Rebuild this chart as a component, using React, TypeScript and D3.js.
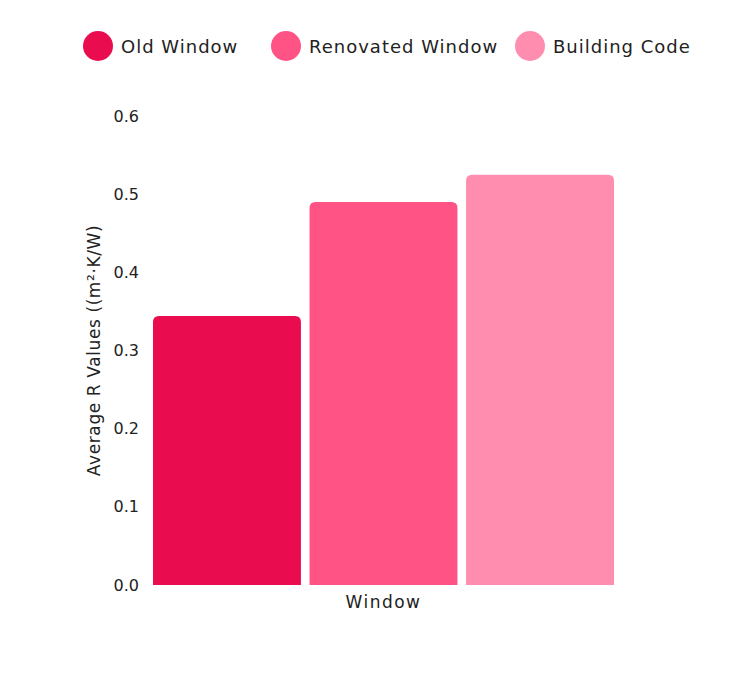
import { axisLeft, scaleBand, scaleLinear, select } from "d3";
import { useEffect, useRef } from "react";

const category = "Window";
const seriesNames = ["Old Window", "Renovated Window", "Building Code"];
const seriesValues = [0.344, 0.49, 0.525];
const seriesColors = ["#e90c4e", "#ff5386", "#ff8db0"];
const yTicks = [0, 0.1, 0.2, 0.3, 0.4, 0.5, 0.6];
const yTitle = "Average R Values ((m²·K/W)";

const W = 730;
const H = 691;
const FONT = "'DejaVu Sans', sans-serif";
const TEXT = "#222";

const App = () => {
  const axisRef = useRef<SVGGElement>(null);

  const x = scaleBand<string>()
    .domain(seriesNames)
    .range([153, 614])
    .paddingInner(0.055);
  const y = scaleLinear().domain([0, 0.6]).range([585, 116]);

  useEffect(() => {
    if (!axisRef.current) return;
    const g = select(axisRef.current);
    g.selectAll("*").remove();
    g.call(
      axisLeft(y)
        .tickValues(yTicks)
        .tickSize(0)
        .tickPadding(14)
        .tickFormat((d) => Number(d).toFixed(1))
    );
    g.select(".domain").remove();
    g.selectAll("text")
      .attr("font-family", FONT)
      .attr("font-size", 16)
      .attr("fill", TEXT);
  }, []);

  // rounded top corners only
  const barPath = (x0: number, y0: number, w: number, h: number, r: number) =>
    `M${x0},${y0 + h}V${y0 + r}Q${x0},${y0} ${x0 + r},${y0}H${x0 + w - r}Q${x0 + w},${y0} ${x0 + w},${y0 + r}V${y0 + h}Z`;

  const legendX = [98, 286, 530];

  return (
    <svg
      width={W}
      height={H}
      style={{ position: "absolute", left: 0, top: 0, background: "#fff" }}
    >
      {seriesNames.map((name, i) => (
        <g key={name}>
          <circle cx={legendX[i]} cy={46} r={15} fill={seriesColors[i]} />
          <text
            x={legendX[i] + 23}
            y={46}
            dominantBaseline="central"
            fontFamily={FONT}
            fontSize={18}
            letterSpacing={1}
            fill={TEXT}
          >
            {name}
          </text>
        </g>
      ))}

      {seriesNames.map((name, i) => {
        const x0 = x(name) as number;
        const y0 = y(seriesValues[i]);
        return (
          <path
            key={name}
            d={barPath(x0, y0, x.bandwidth(), y(0) - y0, 6)}
            fill={seriesColors[i]}
          />
        );
      })}

      <g ref={axisRef} transform="translate(153,0)" />

      <text
        transform={`translate(100,${(116 + 585) / 2}) rotate(-90)`}
        textAnchor="middle"
        fontFamily={FONT}
        fontSize={17}
        letterSpacing={0.6}
        fill={TEXT}
      >
        {yTitle}
      </text>

      <text
        x={(153 + 614) / 2}
        y={608}
        textAnchor="middle"
        fontFamily={FONT}
        fontSize={17}
        letterSpacing={1.5}
        fill={TEXT}
      >
        {category}
      </text>
    </svg>
  );
};

export default App;
